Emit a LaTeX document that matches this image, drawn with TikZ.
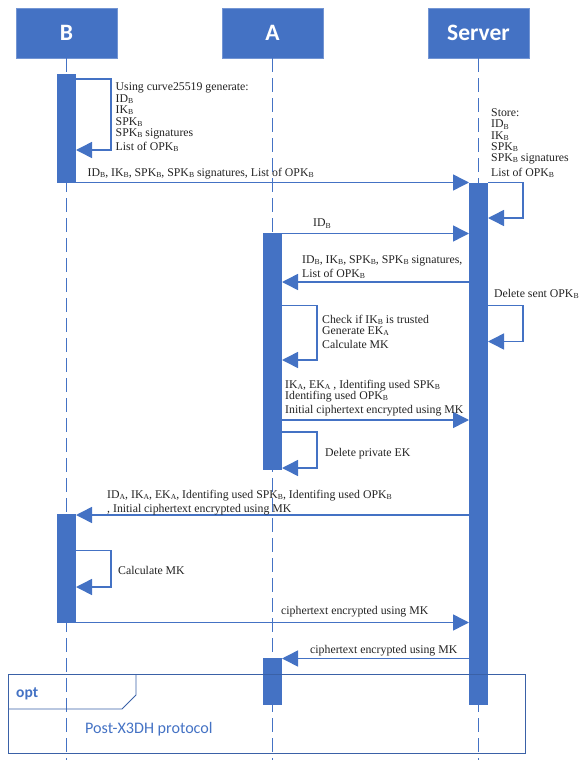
\documentclass[tikz,border=0pt]{standalone}
\usepackage{fontspec}
\setmainfont{Liberation Serif}
\newfontfamily\uifont{Carlito}
\usetikzlibrary{arrows.meta}
\definecolor{uml}{HTML}{4472C4}
\definecolor{ink}{HTML}{222222}
\newcommand{\subtxt}[1]{\raisebox{-1.5pt}{\fontsize{7.7}{7.7}\selectfont #1}}
\newcommand{\sB}{\subtxt{B}}
\newcommand{\sA}{\subtxt{A}}
\tikzset{
  actor/.style={fill=uml,draw=uml!75!white,line width=0.8pt,minimum width=101pt,minimum height=50pt,inner sep=0pt,text=white,font=\uifont\bfseries\fontsize{23.5}{23.5}\selectfont},
  act/.style={fill=uml,draw=none,minimum width=19pt,inner sep=0pt},
  lifeline/.style={draw=uml,line width=1.5pt,dash pattern=on 14pt off 6pt},
  msg/.style={draw=uml,line width=1.5pt,-{Triangle[length=16pt,width=16pt]},shorten >=-0.2pt},
  lbl/.style={anchor=base west,inner sep=0pt,text=ink,align=left,font=\fontsize{11.8}{12}\selectfont},
}
\begin{document}
\begin{tikzpicture}[x=1pt,y=-1pt]
\useasboundingbox (0,0) rectangle (579,760);
% actors
\node[actor] (hB) at (66.5,33) {B};
\node[actor] (hA) at (272.5,33) {A};
\node[actor] (hS) at (478.5,33) {Server};
\coordinate (endB) at (66.5,760);
\coordinate (endA) at (272.5,760);
\coordinate (endS) at (478.5,760);
\draw[lifeline] (hB.south) -- (endB);
\draw[lifeline] (hA.south) -- (endA);
\draw[lifeline] (hS.south) -- (endS);
% activations
\node[act,minimum height=109pt] (aB1) at (66.5,128.5) {};
\node[act,minimum height=237pt] (aA1) at (272.5,351.5) {};
\node[act,minimum height=522pt] (aS) at (478.5,444) {};
\node[act,minimum height=109pt] (aB2) at (66.5,568.5) {};
\node[act,minimum height=47pt] (aA2) at (272.5,681.5) {};
% messages
\draw[msg] (aB1.east |- 0,79) -- (111,79) -- (111,150) -- (aB1.east |- 0,150);
\draw[msg] (aB1.east |- 0,182.5) -- (aS.west |- 0,182.5);
\draw[msg] (aS.east |- 0,182.5) -- (523,182.5) -- (523,218) -- (aS.east |- 0,218);
\draw[msg] (aA1.east |- 0,233.5) -- (aS.west |- 0,233.5);
\draw[msg] (aS.west |- 0,282) -- (aA1.east |- 0,282);
\draw[msg] (aA1.east |- 0,305.5) -- (317,305.5) -- (317,360) -- (aA1.east |- 0,360);
\draw[msg] (aS.east |- 0,305.5) -- (523,305.5) -- (523,341.5) -- (aS.east |- 0,341.5);
\draw[msg] (aA1.east |- 0,420) -- (aS.west |- 0,420);
\draw[msg] (aA1.east |- 0,432) -- (317,432) -- (317,468) -- (aA1.east |- 0,468);
\draw[msg] (aS.west |- 0,515) -- (aB2.east |- 0,515);
\draw[msg] (aB2.east |- 0,550.5) -- (111,550.5) -- (111,587) -- (aB2.east |- 0,587);
\draw[msg] (aB2.east |- 0,622.5) -- (aS.west |- 0,622.5);
\draw[msg] (aS.west |- 0,658.5) -- (aA2.east |- 0,658.5);
% labels
\node[lbl] (t1) at (115.5,150) {Using curve25519 generate:\\ID\sB\\[-1pt]IK\sB\\SPK\sB\\[-1pt]SPK\sB{} signatures\\[2pt]List of OPK\sB};
\node[lbl] (t7) at (87.5,176) {ID\sB, IK\sB, SPK\sB, SPK\sB{} signatures, List of OPK\sB};
\node[lbl] (s1) at (491,176) {Store:\\[-.5pt]ID\sB\\[-.5pt]IK\sB\\[-1pt]SPK\sB\\[-1pt]SPK\sB{} signatures\\[3pt]List of OPK\sB};
\node[lbl] (m1) at (313,226.5) {ID\sB};
\node[lbl] (m2) at (302,277) {ID\sB, IK\sB, SPK\sB, SPK\sB{} signatures,\\[2pt]List of OPK\sB};
\node[lbl] (m4) at (494,297) {Delete sent OPK\sB};
\node[lbl] (c1) at (322,348) {Check if IK\sB{} is trusted\\[-1pt]Generate EK\sA\\[2pt]Calculate MK};
\node[lbl] (i1) at (285,413) {IK\sA, EK\sA{} , Identifing used SPK\sB\\[-1pt]Identifing used OPK\sB\\[2pt]Initial ciphertext encrypted using MK};
\node[lbl] (d1) at (325,456) {Delete private EK};
\node[lbl] (r1) at (107,512) {ID\sA, IK\sA, EK\sA, Identifing used SPK\sB, Identifing used OPK\sB\\[2pt], Initial ciphertext encrypted using MK};
\node[lbl] (r3) at (118,574) {Calculate MK};
\node[lbl] (e1) at (281,614) {ciphertext encrypted using MK};
\node[lbl] (e2) at (310,653) {ciphertext encrypted using MK};
% frame
\node[draw=uml!85!black,line width=0.9pt,minimum width=517.5pt,minimum height=79pt,inner sep=0pt] (frame) at (266.75,713.5) {};
\draw[uml!85!black,line width=0.9pt] (136,674) -- (136,695) -- (122,709) -- (8,709);
\node[anchor=base west,inner sep=0pt,text=uml,font=\uifont\bfseries\fontsize{15.5}{15.5}\selectfont] (opt) at (16,697) {opt};
\node[anchor=base west,inner sep=0pt,text=uml,font=\uifont\fontsize{16.1}{16.1}\selectfont] (post) at (85,733) {Post-X3DH protocol};
\end{tikzpicture}
\end{document}
